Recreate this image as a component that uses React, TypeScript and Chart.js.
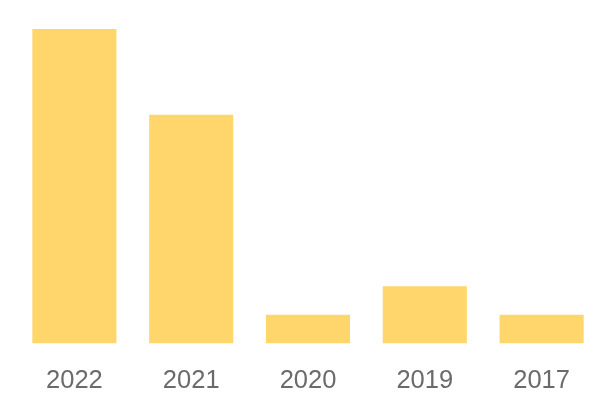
import React, { useEffect, useRef } from "react";
import { Chart, registerables } from "chart.js";

Chart.register(...registerables);

const categories = ["2022", "2021", "2020", "2019", "2017"];
const values = [11, 8, 1, 2, 1];
const yMax = 11;

export default function App() {
  const ref = useRef<HTMLCanvasElement | null>(null);
  useEffect(() => {
    if (!ref.current) return;
    const chart = new Chart(ref.current, {
      type: "bar",
      data: {
        labels: categories,
        datasets: [
          {
            data: values,
            backgroundColor: "rgb(254,214,107)",
            borderWidth: 0,
          },
        ],
      },
      options: {
        animation: false,
        responsive: true,
        maintainAspectRatio: false,
        layout: { padding: { left: 16, right: 0, top: 29, bottom: 0 } },
        plugins: { legend: { display: false }, tooltip: { enabled: false } },
        scales: {
          x: {
            grid: { display: false, drawTicks: false },
            border: { display: false },
            ticks: {
              color: "#6b6b6b",
              padding: 22,
              font: { family: "'Liberation Sans', Arial, sans-serif", size: 25.5 },
            },
          },
          y: {
            display: false,
            min: 0,
            max: yMax,
          },
        },
      },
    });
    return () => chart.destroy();
  }, []);
  return (
    <div style={{ position: "absolute", left: 0, top: 0, width: 600, height: 418 }}>
      <canvas ref={ref} />
    </div>
  );
}
